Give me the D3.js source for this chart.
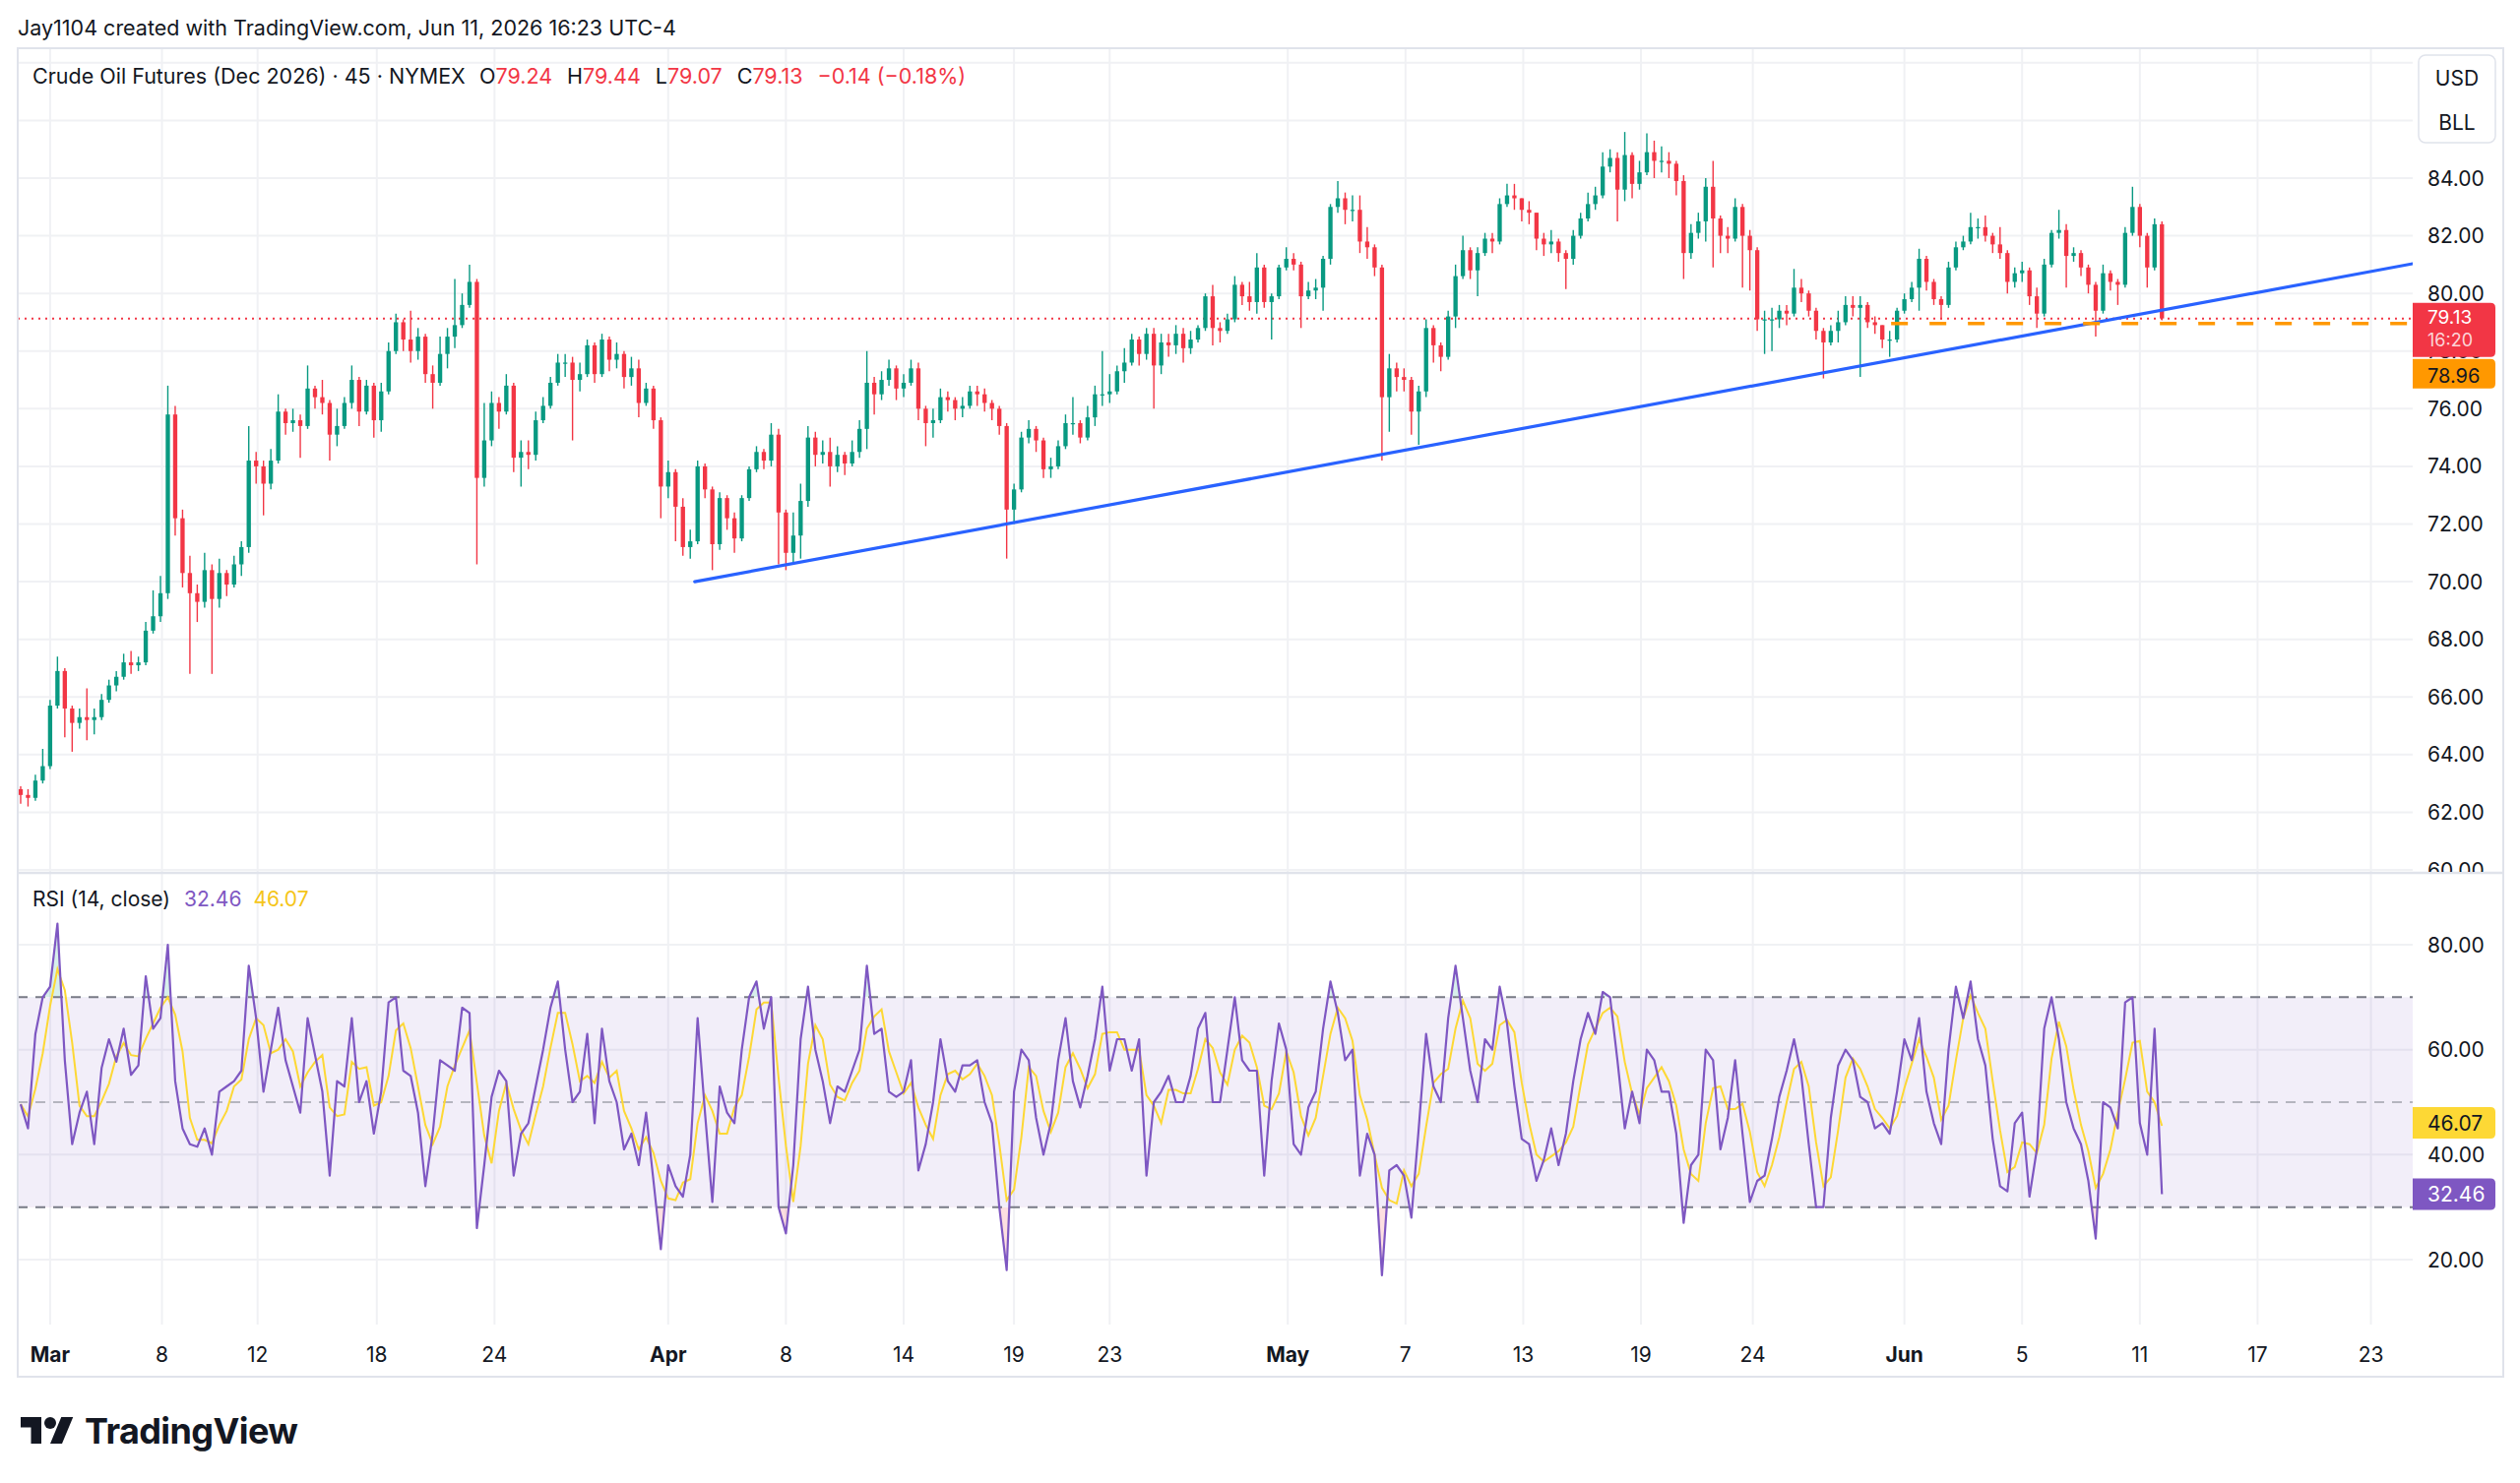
<!DOCTYPE html>
<html>
<head>
<meta charset="utf-8">
<script src="https://cdn.jsdelivr.net/npm/d3@7"></script>
<style>
  body { margin: 0; background: #ffffff; }
  svg { display: block; font-family: Inter, "Noto Sans", sans-serif; }
</style>
</head>
<body>
<svg id="chart" width="2560" height="1507" viewBox="0 0 2560 1507"></svg>
<script>
  // 45 min bars, resampled to 4 per trading day, first bar at day -1 (day 0 = Mar 1 label)
  const firstDay = -1;
  const barsPerDay = 4;
  const firstOpen = 62.8;

  const closes = [
    62.6, 62.5, 63.1, 63.6,   65.7, 66.9, 65.6, 65.1,   65.3, 65.2, 65.3, 65.9,   66.4, 66.7, 67.2, 67.1,
    67.2, 68.3, 68.8, 69.6,   75.8, 72.2, 70.3, 69.6,   69.3, 70.4, 69.4, 70.3,   69.9, 70.6, 71.2, 74.2,
    74.0, 73.4, 74.2, 75.9,   75.5, 75.6, 75.4, 76.7,   76.4, 76.2, 75.1, 75.4,   76.2, 77.0, 75.9, 76.8,
    75.6, 76.6, 78.0, 79.0,   78.4, 78.0, 78.5, 77.2,   76.9, 77.9, 78.5, 78.9,   79.6, 80.4, 73.6, 74.9,
    76.2, 75.9, 76.8, 74.3,   74.5, 74.4, 75.6, 76.1,   76.9, 77.6, 77.6, 77.0,   77.2, 78.2, 77.2, 78.4,
    77.7, 77.9, 77.1, 77.4,   76.2, 76.7, 75.6, 73.3,   73.8, 72.6, 71.2, 71.4,   74.0, 73.2, 71.3, 72.9,
    72.2, 71.5, 72.9, 73.9,   74.5, 74.2, 75.1, 72.4,   71.0, 71.6, 72.8, 75.0,   74.4, 74.5, 74.0, 74.4,
    74.1, 74.5, 75.3, 76.9,   76.5, 77.0, 77.4, 76.7,   76.9, 77.4, 76.0, 75.5,   75.6, 76.4, 76.3, 76.0,
    76.1, 76.6, 76.5, 76.2,   76.0, 75.4, 72.5, 73.2,   75.0, 75.3, 74.9, 73.9,   74.0, 74.7, 75.5, 75.5,
    75.0, 75.7, 76.5, 76.5,   76.6, 77.3, 77.6, 78.4,   77.9, 78.6, 77.5, 78.3,   78.2, 78.6, 78.1, 78.4,
    78.8, 79.9, 78.8, 78.7,   79.1, 80.3, 79.9, 79.7,   80.9, 79.7, 79.9, 80.9,   81.2, 81.0, 79.9, 80.1,
    80.2, 81.2, 83.0, 83.3,   82.9, 82.9, 81.8, 81.6,   80.9, 76.4, 77.4, 77.1,   77.0, 75.9, 76.6, 78.8,
    78.2, 77.8, 79.2, 80.6,   81.5, 80.8, 81.4, 81.9,   81.8, 83.1, 83.4, 83.3,   82.9, 82.8, 81.9, 81.7,
    81.8, 81.4, 81.2, 82.0,   82.6, 83.1, 83.4, 84.4,   84.7, 83.6, 84.8, 83.8,   84.2, 84.9, 84.6, 84.6,
    84.5, 83.9, 81.4, 82.1,   82.5, 83.7, 82.6, 82.0,   81.9, 83.0, 82.0, 81.5,   79.1, 79.1, 79.1, 79.4,
    79.3, 80.2, 80.0, 79.4,   78.7, 78.3, 78.7, 79.0,   79.6, 79.5, 79.6, 79.0,   78.9, 78.4, 78.4, 79.4,
    79.8, 80.2, 81.2, 80.4,   79.8, 79.6, 80.9, 81.6,   81.8, 82.3, 82.3, 82.0,   81.7, 81.4, 80.4, 80.7,
    80.8, 79.9, 79.3, 81.0,   82.1, 82.2, 81.3, 81.4,   80.9, 80.3, 79.4, 80.7,   80.4, 80.3, 82.1, 83.0,
    82.0, 80.9, 82.4, 79.13
  ];

  const highs = [
    62.9, 62.8, 63.3, 64.2,   65.9, 67.4, 67.0, 65.7,   65.6, 66.3, 65.6, 66.1,   66.6, 66.9, 67.5, 67.6,
    67.4, 68.6, 69.7, 70.2,   76.8, 76.1, 72.5, 70.9,   69.9, 71.0, 70.6, 70.8,   70.4, 70.9, 71.4, 75.4,
    74.5, 74.2, 74.6, 76.5,   76.0, 76.0, 75.8, 77.5,   76.8, 77.0, 76.3, 76.0,   76.4, 77.5, 77.1, 77.0,
    76.9, 76.9, 78.3, 79.3,   79.1, 79.4, 78.8, 78.6,   77.5, 78.5, 78.8, 80.5,   80.0, 81.0, 80.5, 76.2,
    76.6, 76.4, 77.2, 76.9,   74.9, 74.9, 75.9, 76.4,   77.1, 77.9, 77.9, 77.8,   77.6, 78.4, 78.3, 78.6,
    78.5, 78.3, 78.0, 77.8,   77.7, 76.9, 76.8, 75.7,   74.2, 73.9, 72.9, 71.8,   74.2, 74.1, 73.3, 73.1,
    73.0, 72.4, 73.0, 74.0,   74.7, 74.6, 75.5, 75.3,   72.5, 72.4, 73.4, 75.4,   75.2, 74.9, 75.0, 74.7,
    74.5, 74.9, 75.6, 78.0,   77.1, 77.3, 77.7, 77.5,   77.2, 77.7, 77.6, 76.1,   76.0, 76.7, 76.6, 76.4,
    76.4, 76.8, 76.8, 76.7,   76.3, 76.1, 75.5, 73.4,   75.2, 75.6, 75.4, 75.0,   74.3, 74.9, 75.8, 76.4,
    75.6, 76.1, 76.8, 78.0,   77.2, 77.5, 78.1, 78.6,   78.5, 78.8, 78.8, 78.6,   78.6, 78.9, 78.8, 78.7,
    78.9, 80.0, 80.3, 79.0,   79.3, 80.6, 80.4, 80.4,   81.4, 81.0, 80.0, 81.0,   81.6, 81.4, 81.1, 80.4,
    80.5, 81.3, 83.1, 83.9,   83.5, 83.4, 83.4, 82.3,   81.7, 81.0, 77.9, 77.6,   77.4, 77.1, 76.8, 79.1,
    78.9, 78.3, 79.4, 81.0,   82.0, 81.6, 81.6, 82.1,   82.1, 83.3, 83.8, 83.8,   83.3, 83.2, 82.8, 82.1,
    82.2, 81.9, 81.5, 82.2,   82.8, 83.5, 83.7, 84.9,   85.0, 84.9, 85.6, 84.9,   84.6, 85.55, 85.3, 85.1,
    84.9, 84.6, 84.1, 82.4,   82.8, 84.0, 84.6, 82.7,   82.3, 83.3, 83.1, 82.2,   81.6, 79.4, 79.5, 79.6,
    79.6, 80.85, 80.5, 80.1,  79.5, 78.8, 78.9, 79.4,   79.9, 79.9, 79.9, 79.7,   79.2, 78.9, 78.7, 79.5,
    80.0, 80.4, 81.55, 81.3,  80.5, 79.9, 81.1, 81.8,   82.0, 82.8, 82.6, 82.7,   82.1, 82.3, 81.5, 80.9,
    81.1, 80.9, 80.2, 81.2,   82.2, 82.9, 82.4, 81.6,   81.5, 81.0, 80.4, 81.0,   80.8, 80.5, 82.3, 83.7,
    83.1, 82.1, 82.6, 82.5
  ];

  const lows = [
    62.3, 62.2, 62.4, 63.0,   63.5, 65.6, 64.6, 64.1,   64.9, 64.5, 64.7, 65.2,   65.8, 66.2, 66.6, 66.8,
    66.9, 67.1, 68.2, 68.6,   69.4, 71.6, 69.8, 66.8,   68.6, 69.1, 66.8, 69.1,   69.5, 69.8, 70.2, 71.0,
    73.4, 72.3, 73.2, 74.1,   75.1, 75.2, 74.3, 75.3,   76.0, 75.8, 74.2, 74.7,   75.3, 76.0, 75.4, 75.8,
    75.0, 75.2, 76.5, 77.9,   78.0, 77.6, 77.7, 76.9,   76.0, 76.8, 77.4, 78.1,   78.8, 79.5, 70.6, 73.3,
    74.7, 75.3, 75.8, 73.8,   73.3, 73.9, 74.2, 75.5,   76.0, 76.8, 77.1, 74.9,   76.6, 77.1, 76.9, 77.1,
    77.3, 77.4, 76.7, 76.8,   75.7, 76.1, 75.3, 72.2,   72.9, 71.4, 70.9, 70.8,   71.3, 72.9, 70.4, 71.1,
    71.8, 71.0, 71.4, 72.8,   73.8, 73.9, 74.0, 70.6,   70.4, 70.6, 70.8, 72.6,   74.0, 74.1, 73.3, 73.8,
    73.7, 74.0, 74.3, 74.6,   75.8, 76.3, 76.8, 76.3,   76.4, 76.8, 75.6, 74.7,   75.0, 75.5, 75.9, 75.6,
    75.7, 76.0, 76.1, 75.9,   75.6, 75.1, 70.8, 72.0,   73.1, 74.8, 74.5, 73.6,   73.6, 73.9, 74.6, 75.1,
    74.8, 74.9, 75.4, 76.1,   76.2, 76.5, 76.9, 77.5,   77.5, 77.7, 76.0, 77.2,   77.8, 77.9, 77.6, 77.9,
    78.3, 78.7, 78.2, 78.3,   78.6, 79.0, 79.6, 79.4,   79.3, 79.5, 78.4, 79.8,   80.8, 80.8, 78.8, 79.8,
    79.8, 79.4, 81.0, 82.8,   82.4, 82.5, 81.4, 81.2,   80.6, 74.2, 75.2, 76.6,   76.6, 75.1, 74.75, 76.4,
    77.6, 77.3, 77.7, 78.8,   80.5, 80.5, 79.9, 81.3,   81.4, 81.7, 83.0, 82.9,   82.5, 82.4, 81.5, 81.3,
    81.4, 81.1, 80.15, 81.0,  81.9, 82.5, 82.9, 83.3,   84.2, 82.5, 83.2, 83.3,   83.6, 84.1, 84.0, 84.2,
    84.0, 83.4, 80.5, 81.2,   81.9, 81.8, 80.9, 81.4,   81.4, 81.8, 80.2, 80.1,   78.7, 77.9, 78.0, 78.8,
    78.9, 79.2, 79.7, 79.2,   78.4, 77.05, 78.2, 78.3,  78.9, 79.2, 77.1, 78.8,   78.6, 78.1, 77.8, 78.3,
    79.3, 79.7, 79.4, 80.1,   79.6, 79.1, 79.5, 80.8,   81.5, 81.7, 81.9, 81.8,   81.4, 81.2, 80.0, 80.2,
    80.4, 79.6, 78.8, 79.2,   80.9, 81.9, 80.2, 81.1,   80.6, 80.0, 78.5, 79.3,   80.1, 79.6, 80.2, 82.0,
    81.6, 80.2, 80.8, 79.07
  ];

  const rsiValues = [
    49.6, 45, 63, 70,   72, 84, 58, 42,   48, 52, 42, 56.5,   62, 57.7, 64, 55.2,
    57, 74, 64, 66,     80, 54, 45, 42,   41.5, 45, 40, 52,   53, 54, 56, 76,
    66, 52, 60, 68,     58, 53, 48, 66,   59, 52, 36, 54,     53, 66, 50, 54,
    44, 52, 69, 70,     56, 55, 48, 34,   44, 58, 57, 56,     68, 67, 26, 38,
    51, 56, 54, 36,     44, 46, 53, 60,   68, 73, 60, 50,     52, 63, 46, 64,
    54, 50, 41, 44,     38, 48, 35, 22,   38, 34, 32, 40,     66, 48, 31, 53,
    48, 46, 60, 70,     73, 64, 70, 30,   25, 38, 62, 72,     60, 54, 46, 53,
    52, 56, 60, 76,     63, 64, 52, 51,   52, 58, 37, 42,     50, 62, 54, 52,
    57, 57, 58, 50,     46, 30, 18, 52,   60, 58, 47, 40,     46, 58, 66, 54,
    49, 55, 62, 72,     56, 62, 62, 56,   62, 36, 50, 52,     55, 50, 50, 55,
    64, 67, 50, 50,     60, 70, 58, 56,   56, 36, 54, 65,     60, 42, 40, 49,
    52, 64, 73, 67,     58, 60, 36, 44,   40, 17, 37, 38,     36, 28, 45, 63,
    53, 50, 66, 76,     66, 56, 50, 62,   60, 72, 65, 53,     43, 42, 35, 39,
    45, 38, 44, 54,     62, 67, 63, 71,   70, 58, 45, 52,     46, 60, 58, 52,
    52, 44, 27, 38,     40, 60, 58, 41,   47, 58, 44, 31,     35, 36, 43, 51,
    56, 62, 55, 42,     30, 30, 47, 57,   60, 58, 51, 50,     45, 46, 44, 52,
    62, 58, 66, 52,     46, 42, 60, 72,   66, 73, 62, 57,     43, 34, 33, 46,
    48, 32, 41, 64,     70, 62, 50, 45,   42, 35, 24, 50,     49, 45, 69, 70,
    46, 40, 64, 32.46
  ];
  const rsiMaWindow = 3;

  const priceTicks = [60, 62, 64, 66, 68, 70, 72, 74, 76, 78, 80, 82, 84];
  const priceGrid = [60, 62, 64, 66, 68, 70, 72, 74, 76, 78, 80, 82, 84, 86, 88];
  const rsiTicks = [20, 40, 60, 80];
  const rsiLevels = { upper: 70, middle: 50, lower: 30 };

  // day offsets of the date labels (trading days since the Mar 1 label)
  const timeTicks = [
    { label: "Mar", day: 0, month: true }, { label: "8", day: 3.8 }, { label: "12", day: 7.05 },
    { label: "18", day: 11.1 }, { label: "24", day: 15.1 }, { label: "Apr", day: 21.0, month: true },
    { label: "8", day: 25.0 }, { label: "14", day: 29.0 }, { label: "19", day: 32.75 },
    { label: "23", day: 36.0 }, { label: "May", day: 42.05, month: true }, { label: "7", day: 46.05 },
    { label: "13", day: 50.05 }, { label: "19", day: 54.05 }, { label: "24", day: 57.85 },
    { label: "Jun", day: 63.0, month: true }, { label: "5", day: 67.0 }, { label: "11", day: 71.0 },
    { label: "17", day: 75.0 }, { label: "23", day: 78.85 }
  ];

  const trendLine = [{ day: 21.9, price: 70.0 }, { day: 80.27, price: 81.03 }];
  const alertLine = { fromDay: 62.55, price: 78.96 };
  const lastPrice = { price: 79.13, time: "16:20" };
  const rsiLast = 32.46;
  const rsiMaLast = 46.07;

  const headerText = "Jay1104 created with TradingView.com, Jun 11, 2026 16:23 UTC-4";
  const symbolText = "Crude Oil Futures (Dec 2026) · 45 · NYMEX";
  const ohlcLegend = [["O", "79.24"], ["H", "79.44"], ["L", "79.07"], ["C", "79.13"]];
  const changeText = "\u22120.14 (\u22120.18%)";
  const currency = ["USD", "BLL"];

  // ---------- layout ----------
  const plotL = 18, plotR = 2451;
  const mainT = 50, mainB = 886;
  const rsiT = 888, rsiB = 1346;
  const frameR = 2543, frameB = 1399;
  const axisTextX = 2466;
  const ink = "#131722", up = "#089981", down = "#f23645", gridColor = "#f0f1f4", lineColor = "#e0e3eb";
  const rsiColor = "#7e57c2", maColor = "#fdd835";

  const svg = d3.select("#chart");
  svg.append("rect").attr("width", 2560).attr("height", 1507).attr("fill", "#ffffff");

  const x = d3.scaleLinear().domain([-1.1, 80.27]).range([plotL, plotR]);
  const y = d3.scaleLinear().domain([60, 84]).range([884, 181]);
  const yR = d3.scaleLinear().domain([20, 80]).range([1280, 960]);

  const bars = closes.map((c, i) => ({
    day: firstDay + i / barsPerDay,
    open: i === 0 ? firstOpen : closes[i - 1],
    high: highs[i],
    low: lows[i],
    close: c
  }));
  const rsi = rsiValues.map((v, i) => ({ day: firstDay + i / barsPerDay, v: v }));
  const rsiMa = rsi.map((d, i) => ({
    day: d.day,
    v: d3.mean(rsiValues.slice(Math.max(0, i - rsiMaWindow + 1), i + 1))
  }));

  const defs = svg.append("defs");
  defs.append("clipPath").attr("id", "clipMain").append("rect")
    .attr("x", plotL).attr("y", mainT).attr("width", plotR - plotL).attr("height", mainB - mainT);
  defs.append("clipPath").attr("id", "clipRsi").append("rect")
    .attr("x", plotL).attr("y", rsiT).attr("width", plotR - plotL).attr("height", rsiB - rsiT);
  defs.append("clipPath").attr("id", "clipAxisMain").append("rect")
    .attr("x", plotR).attr("y", mainT).attr("width", frameR - plotR).attr("height", mainB - mainT);
  defs.append("clipPath").attr("id", "clipOver").append("rect")
    .attr("x", plotL).attr("y", rsiT).attr("width", plotR - plotL).attr("height", yR(rsiLevels.upper) - rsiT);
  defs.append("clipPath").attr("id", "clipUnder").append("rect")
    .attr("x", plotL).attr("y", yR(rsiLevels.lower)).attr("width", plotR - plotL).attr("height", rsiB - yR(rsiLevels.lower));

  // ---------- grid ----------
  const grid = svg.append("g").attr("stroke", gridColor).attr("stroke-width", 2);
  grid.append("g").attr("clip-path", "url(#clipMain)").selectAll("line").data(priceGrid).join("line")
    .attr("x1", plotL).attr("x2", plotR).attr("y1", d => y(d)).attr("y2", d => y(d));
  grid.append("g").selectAll("line").data(rsiTicks).join("line")
    .attr("x1", plotL).attr("x2", plotR).attr("y1", d => yR(d)).attr("y2", d => yR(d));
  grid.append("g").selectAll("line").data(timeTicks).join("line")
    .attr("x1", d => x(d.day)).attr("x2", d => x(d.day)).attr("y1", mainT).attr("y2", mainB);
  grid.append("g").selectAll("line").data(timeTicks).join("line")
    .attr("x1", d => x(d.day)).attr("x2", d => x(d.day)).attr("y1", rsiT).attr("y2", rsiB);

  // ---------- main pane ----------
  const main = svg.append("g").attr("clip-path", "url(#clipMain)");

  main.append("line")
    .attr("x1", plotL).attr("x2", plotR)
    .attr("y1", y(lastPrice.price)).attr("y2", y(lastPrice.price))
    .attr("stroke", down).attr("stroke-width", 2).attr("stroke-dasharray", "2 5");

  const bw = (x(1 / barsPerDay) - x(0)) * 0.58;
  const candle = main.append("g").selectAll("g").data(bars).join("g")
    .attr("fill", d => d.close >= d.open ? up : down)
    .attr("stroke", d => d.close >= d.open ? up : down);
  candle.append("line")
    .attr("x1", d => x(d.day)).attr("x2", d => x(d.day))
    .attr("y1", d => y(d.high)).attr("y2", d => y(d.low))
    .attr("stroke-width", 1.4);
  candle.append("rect")
    .attr("stroke", "none")
    .attr("x", d => x(d.day) - bw / 2).attr("width", bw)
    .attr("y", d => y(Math.max(d.open, d.close)))
    .attr("height", d => Math.max(1.2, Math.abs(y(d.open) - y(d.close))));

  main.append("line")
    .attr("x1", x(trendLine[0].day)).attr("y1", y(trendLine[0].price))
    .attr("x2", x(trendLine[1].day)).attr("y2", y(trendLine[1].price))
    .attr("stroke", "#2962ff").attr("stroke-width", 3.2).attr("stroke-linecap", "round");

  main.append("line")
    .attr("x1", x(alertLine.fromDay)).attr("x2", plotR)
    .attr("y1", y(alertLine.price)).attr("y2", y(alertLine.price))
    .attr("stroke", "#ff9800").attr("stroke-width", 3.5).attr("stroke-dasharray", "17 22");

  // ---------- RSI pane ----------
  const rp = svg.append("g").attr("clip-path", "url(#clipRsi)");
  rp.append("rect")
    .attr("x", plotL).attr("width", plotR - plotL)
    .attr("y", yR(rsiLevels.upper)).attr("height", yR(rsiLevels.lower) - yR(rsiLevels.upper))
    .attr("fill", "rgba(126,87,194,0.1)");

  const rsiArea = lvl => d3.area().x(d => x(d.day)).y0(yR(lvl)).y1(d => yR(d.v));
  rp.append("path").datum(rsi).attr("clip-path", "url(#clipOver)")
    .attr("d", rsiArea(rsiLevels.upper)).attr("fill", "rgba(8,153,129,0.16)");
  rp.append("path").datum(rsi).attr("clip-path", "url(#clipUnder)")
    .attr("d", rsiArea(rsiLevels.lower)).attr("fill", "rgba(242,54,69,0.16)");

  const levelLines = [
    { v: rsiLevels.upper, c: "#787b86" },
    { v: rsiLevels.middle, c: "rgba(120,123,134,0.5)" },
    { v: rsiLevels.lower, c: "#787b86" }
  ];
  rp.append("g").selectAll("line").data(levelLines).join("line")
    .attr("x1", plotL).attr("x2", plotR)
    .attr("y1", d => yR(d.v)).attr("y2", d => yR(d.v))
    .attr("stroke", d => d.c).attr("stroke-width", 2).attr("stroke-dasharray", "10 8");

  const rsiLine = d3.line().x(d => x(d.day)).y(d => yR(d.v));
  rp.append("path").datum(rsiMa).attr("d", rsiLine)
    .attr("fill", "none").attr("stroke", maColor).attr("stroke-width", 2);
  rp.append("path").datum(rsi).attr("d", rsiLine)
    .attr("fill", "none").attr("stroke", rsiColor).attr("stroke-width", 2.2).attr("stroke-linejoin", "round");

  // ---------- frame & separators ----------
  svg.append("rect")
    .attr("x", plotL).attr("y", mainT - 1).attr("width", frameR - plotL).attr("height", frameB - mainT + 1)
    .attr("fill", "none").attr("stroke", lineColor).attr("stroke-width", 2);
  svg.append("line")
    .attr("x1", plotL).attr("x2", frameR).attr("y1", mainB + 1).attr("y2", mainB + 1)
    .attr("stroke", lineColor).attr("stroke-width", 2.5);

  // ---------- price axis ----------
  svg.append("g").attr("clip-path", "url(#clipAxisMain)")
    .selectAll("text").data(priceTicks).join("text")
    .attr("x", axisTextX).attr("y", d => y(d)).attr("dy", "0.36em")
    .attr("font-size", 21).attr("fill", ink)
    .text(d => d.toFixed(2));

  const box = svg.append("g");
  box.append("rect").attr("x", 2457).attr("y", 56).attr("width", 78).attr("height", 89).attr("rx", 7)
    .attr("fill", "#ffffff").attr("stroke", lineColor).attr("stroke-width", 1.5);
  box.selectAll("text").data(currency).join("text")
    .attr("x", 2496).attr("y", (d, i) => 79 + i * 45).attr("dy", "0.36em")
    .attr("text-anchor", "middle").attr("font-size", 21).attr("fill", ink)
    .text(d => d);

  // right-rounded label plate
  function plate(top, h, fill) {
    const l = plotR, r = 2535, rr = 5;
    return svg.append("path")
      .attr("d", `M${l},${top}H${r - rr}Q${r},${top} ${r},${top + rr}V${top + h - rr}Q${r},${top + h} ${r - rr},${top + h}H${l}Z`)
      .attr("fill", fill);
  }
  const redTop = y(lastPrice.price) - 16;
  plate(redTop, 55, down);
  svg.append("text").attr("x", axisTextX).attr("y", redTop + 15).attr("dy", "0.36em")
    .attr("font-size", 19).attr("fill", "#ffffff").text(lastPrice.price.toFixed(2));
  svg.append("text").attr("x", axisTextX).attr("y", redTop + 38).attr("dy", "0.36em")
    .attr("font-size", 18).attr("fill", "rgba(255,255,255,0.8)").text(lastPrice.time);

  const orangeTop = Math.max(y(alertLine.price) - 15, redTop + 57);
  plate(orangeTop, 30, "#ff9800");
  svg.append("text").attr("x", axisTextX).attr("y", orangeTop + 17).attr("dy", "0.36em")
    .attr("font-size", 20).attr("fill", ink).text(alertLine.price.toFixed(2));

  // ---------- RSI axis ----------
  svg.append("g").selectAll("text").data(rsiTicks).join("text")
    .attr("x", axisTextX).attr("y", d => yR(d)).attr("dy", "0.36em")
    .attr("font-size", 21).attr("fill", ink)
    .text(d => d.toFixed(2));

  plate(yR(rsiMaLast) - 16, 32, maColor);
  svg.append("text").attr("x", axisTextX).attr("y", yR(rsiMaLast)).attr("dy", "0.36em")
    .attr("font-size", 21).attr("fill", ink).text(rsiMaLast.toFixed(2));
  plate(yR(rsiLast) - 16, 32, rsiColor);
  svg.append("text").attr("x", axisTextX).attr("y", yR(rsiLast)).attr("dy", "0.36em")
    .attr("font-size", 21).attr("fill", "#ffffff").text(rsiLast.toFixed(2));

  // ---------- time axis ----------
  svg.append("g").selectAll("text").data(timeTicks).join("text")
    .attr("x", d => x(d.day)).attr("y", 1376).attr("dy", "0.36em")
    .attr("text-anchor", "middle").attr("font-size", 21)
    .attr("font-weight", d => d.month ? 700 : 400).attr("fill", ink)
    .text(d => d.label);

  // ---------- legends ----------
  svg.append("text").attr("x", 18).attr("y", 28).attr("dy", "0.36em")
    .attr("font-size", 21.5).attr("fill", ink).text(headerText);

  const leg = svg.append("text").attr("x", 33).attr("y", 77).attr("dy", "0.36em")
    .attr("font-size", 21.5).attr("fill", ink);
  leg.append("tspan").text(symbolText);
  ohlcLegend.forEach(([k, v]) => {
    leg.append("tspan").attr("dx", 15).text(k);
    leg.append("tspan").attr("fill", down).text(v);
  });
  leg.append("tspan").attr("dx", 15).attr("fill", down).text(changeText);

  const rleg = svg.append("text").attr("x", 33).attr("y", 913).attr("dy", "0.36em")
    .attr("font-size", 21).attr("fill", ink);
  rleg.append("tspan").text("RSI (14, close)");
  rleg.append("tspan").attr("dx", 14).attr("fill", rsiColor).text(rsiLast.toFixed(2));
  rleg.append("tspan").attr("dx", 12).attr("fill", "#f5c518").text(rsiMaLast.toFixed(2));

  // ---------- TradingView mark ----------
  const logo = svg.append("g").attr("transform", "translate(21,1434) scale(1.5)").attr("fill", ink);
  logo.append("path").attr("d", "M14 22H7V11H0V4h14v18zM28 22h-8l7.5-18h8L28 22z");
  logo.append("circle").attr("cx", 20).attr("cy", 8).attr("r", 4);
  svg.append("text").attr("x", 86).attr("y", 1454).attr("dy", "0.36em")
    .attr("font-size", 36).attr("font-weight", 700).attr("letter-spacing", -0.6).attr("fill", ink)
    .text("TradingView");
</script>
</body>
</html>
